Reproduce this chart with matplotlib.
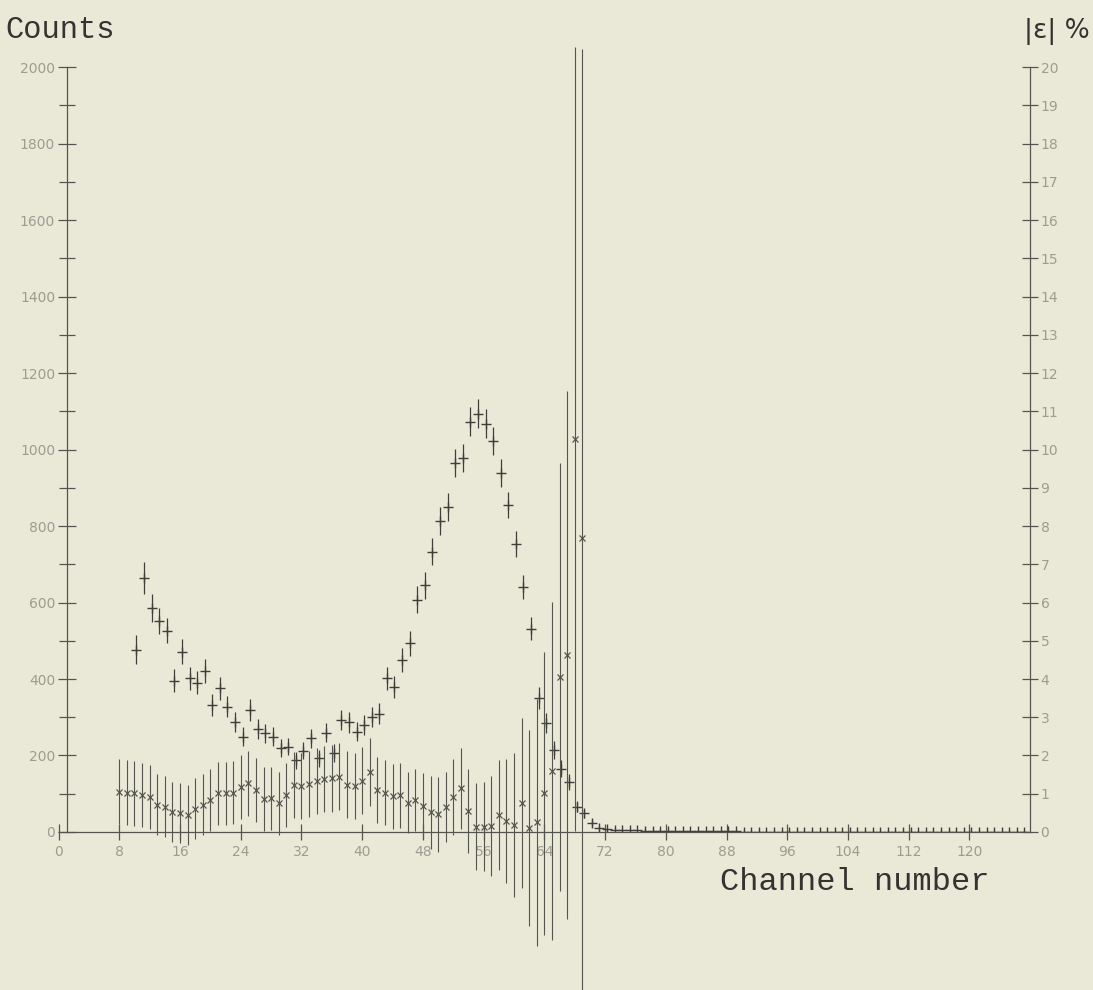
import numpy as np
import matplotlib
matplotlib.use("Agg")
import matplotlib.pyplot as plt

# channel positions
eps_ch = np.arange(8, 70)
count_ch = np.arange(10, 128) + 0.25

# |eps| in %, with error bars (right axis)
eps_val = [1.05, 1.03, 1.01, 0.97, 0.92, 0.71, 0.66, 0.53, 0.49, 0.44,
           0.61, 0.71, 0.84, 1.01, 1.01, 1.03, 1.18, 1.27, 1.10, 0.86,
           0.88, 0.75, 0.97, 1.23, 1.20, 1.25, 1.33, 1.38, 1.40, 1.45,
           1.24, 1.20, 1.34, 1.57, 1.10, 1.03, 0.94, 0.96, 0.77, 0.84,
           0.68, 0.51, 0.47, 0.66, 0.92, 1.14, 0.55, 0.14, 0.14, 0.16,
           0.44, 0.29, 0.18, 0.76, 0.10, 0.25, 1.01, 1.59, 4.06, 4.63,
           10.27, 7.68]
eps_err = [0.85, 0.85, 0.85, 0.84, 0.83, 0.80, 0.80, 0.79, 0.79, 0.79,
           0.80, 0.80, 0.81, 0.82, 0.82, 0.83, 0.84, 0.84, 0.84, 0.83,
           0.83, 0.82, 0.84, 0.86, 0.86, 0.87, 0.87, 0.87, 0.88, 0.88,
           0.87, 0.87, 0.88, 0.90, 0.86, 0.86, 0.85, 0.85, 0.79, 0.82,
           0.87, 0.96, 0.98, 0.92, 1.00, 1.05, 1.09, 1.13, 1.16, 1.31,
           1.44, 1.62, 1.88, 2.22, 2.57, 3.22, 3.70, 4.42, 5.60, 6.90,
           10.25, 12.80]

# counts, with error bars (left axis)
count_val = [477, 663, 586, 552, 526, 396, 471, 402, 390, 421,
             332, 376, 328, 288, 249, 319, 269, 258, 249, 219,
             223, 188, 213, 245, 193, 260, 206, 293, 287, 262,
             280, 301, 309, 402, 380, 450, 493, 607, 645, 733,
             813, 850, 964, 977, 1073, 1093, 1068, 1023, 938, 855,
             753, 640, 532, 350, 285, 215, 165, 131, 66, 49,
             23, 10,
             7, 6, 5, 4, 4, 3, 3, 3, 2, 2,
             2, 2, 2, 2, 2, 2, 2, 2, 1, 1,
             1, 1, 1, 1, 1, 1, 1, 1, 1, 1,
             1, 1, 1, 1, 1, 1, 1, 1, 1, 1,
             1, 1, 1, 1, 1, 1, 1, 1, 1, 1,
             1, 1, 1, 1, 1, 1]
count_err = [38, 42, 36, 34, 33, 30, 33, 30, 30, 31,
             28, 30, 28, 27, 25, 28, 26, 25, 25, 23,
             23, 22, 23, 25, 22, 25, 23, 27, 27, 25,
             26, 27, 27, 30, 29, 32, 33, 35, 36, 36,
             36, 36, 37, 37, 38, 38, 38, 37, 36, 35,
             34, 32, 30, 28, 26, 24, 22, 20, 15, 12,
             9, 7,
             4, 4, 4, 4, 4, 4, 4, 4, 4, 4,
             4, 4, 4, 4, 4, 4, 4, 4, 4, 4,
             4, 4, 4, 4, 4, 4, 4, 4, 4, 4,
             4, 4, 4, 4, 4, 4, 4, 4, 4, 4,
             4, 4, 4, 4, 4, 4, 4, 4, 4, 4,
             4, 4, 4, 4, 4, 4]

x_ticks = list(range(0, 121, 8))
left_ticks = list(range(0, 2001, 200))
right_ticks = list(range(0, 21))

paper = "#eae9d8"
ink = "#3e3e3a"
faint = "#9c9c90"

fig = plt.figure(figsize=(10.93, 9.90), dpi=100, facecolor=paper)
ax = fig.add_axes([0.0536, 0.1596, 0.8889, 0.7727])
ax.set_facecolor("none")
ax.set_xlim(0, 128)
ax.set_ylim(0, 2000)

ax2 = ax.twinx()
ax2.set_ylim(0, 20)

# counts: "+" with short error bars
c = ax.errorbar(count_ch, count_val, yerr=count_err, fmt="+", ms=7, mew=1.0,
                color=ink, ecolor=ink, elinewidth=0.9, capsize=0)

# |eps|: "x" with long error bars, not clipped
e = ax2.errorbar(eps_ch, eps_val, yerr=eps_err, fmt="x", ms=5, mew=0.9,
                 color="#55554f", ecolor="#55554f", elinewidth=0.8, capsize=0)
for art in [e.lines[0]] + list(e.lines[2]):
    art.set_clip_on(False)

for a in (ax, ax2):
    for s in ("top",):
        a.spines[s].set_visible(False)
    for s in a.spines.values():
        s.set_color("#555550")
        s.set_linewidth(0.9)

ax.spines["right"].set_visible(False)
ax.spines["left"].set_position(("data", 1.1))
ax2.spines["left"].set_visible(False)
ax2.spines["bottom"].set_visible(False)

ax.set_xticks(x_ticks)
ax.set_yticks(left_ticks)
ax.set_yticks(range(100, 2000, 200), minor=True)
ax2.set_yticks(right_ticks)

ax.tick_params(axis="x", direction="inout", length=11, width=0.9, color="#555550",
               labelsize=10, labelcolor=faint, pad=4)
ax.tick_params(axis="y", which="major", direction="inout", length=13, width=0.9,
               color="#555550", labelsize=10, labelcolor=faint, pad=2)
ax.tick_params(axis="y", which="minor", direction="inout", length=11, width=0.9,
               color="#555550")
ax2.tick_params(axis="y", direction="inout", length=11, width=0.9, color="#555550",
                labelsize=10, labelcolor=faint, pad=2)

fig.text(0.005, 0.970, "Counts", family="Liberation Mono", fontsize=22,
         color="#333330", va="center", ha="left")
fig.text(0.997, 0.968, "|ε| %", family="DejaVu Sans", fontsize=19,
         color="#333330", va="center", ha="right")
fig.text(0.659, 0.109, "Channel number", family="Liberation Mono", fontsize=23,
         color="#333330", va="center", ha="left")

fig.savefig("out.png", dpi=100, facecolor=paper)
